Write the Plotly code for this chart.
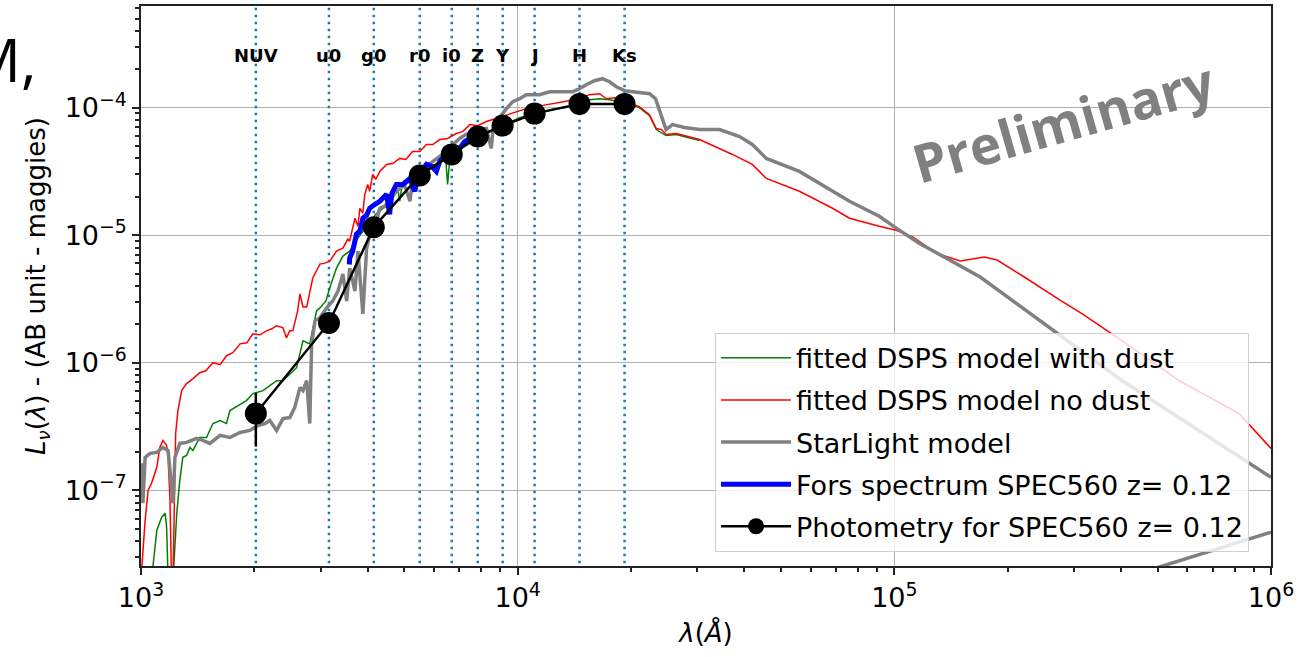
import numpy as np
import plotly.graph_objects as go

# ---------------- data ----------------
filters = ["NUV", "u0", "g0", "r0", "i0", "Z", "Y", "J", "H", "Ks"]
filter_wave = [2018, 3155, 4150, 5496, 6683, 7834, 9125, 11090, 14596, 19220]   # Angstrom (rest frame)
phot_flux = [4.0e-7, 2.05e-6, 1.155e-5, 2.94e-5, 4.3e-5, 5.93e-5, 7.23e-5, 8.98e-5, 1.07e-4, 1.07e-4]
phot_err = [1.8e-7, 1.0e-7, 4e-7, 6e-7, 8e-7, 1e-6, 1.2e-6, 1.5e-6, 2e-6, 2e-6]

# spectra as (log10 wavelength [A], log10 L_nu [maggies])
red_nodust = [(3.000,-7.7),(3.011,-7.234),(3.019,-7.000),(3.028,-6.945),(3.042,-6.820),(3.050,-6.664),
    (3.058,-6.609),(3.068,-6.648),(3.072,-6.742),(3.077,-7.078),(3.081,-7.7),(3.085,-7.7),(3.092,-6.555),
    (3.098,-6.375),(3.108,-6.219),(3.121,-6.164),(3.138,-6.125),(3.156,-6.078),(3.172,-6.063),(3.191,-6.000),
    (3.210,-6.016),(3.227,-5.945),(3.244,-5.922),(3.263,-5.852),(3.281,-5.844),(3.297,-5.773),(3.316,-5.781),
    (3.333,-5.750),(3.347,-5.734),(3.360,-5.711),(3.377,-5.727),(3.386,-5.805),(3.395,-5.750),(3.403,-5.750),
    (3.416,-5.594),(3.422,-5.461),(3.430,-5.563),(3.440,-5.563),(3.456,-5.336),(3.475,-5.227),(3.488,-5.219),
    (3.501,-5.203),(3.519,-5.125),(3.536,-5.102),(3.549,-5.031),(3.554,-5.047),(3.568,-4.867),(3.576,-4.930),
    (3.581,-4.789),(3.589,-4.828),(3.594,-4.680),(3.602,-4.602),(3.607,-4.656),(3.615,-4.523),(3.623,-4.563),
    (3.634,-4.500),(3.652,-4.445),(3.668,-4.438),(3.687,-4.398),(3.703,-4.406),(3.721,-4.344),(3.740,-4.344),
    (3.758,-4.289),(3.775,-4.289),(3.793,-4.250),(3.814,-4.242),(3.837,-4.203),(3.854,-4.188),(3.873,-4.133),
    (3.894,-4.141),(3.917,-4.109),(3.942,-4.086),(3.970,-4.055),(3.995,-4.031),(4.023,-4.008),(4.048,-3.992),
    (4.076,-3.977),(4.111,-3.961),(4.151,-3.938),(4.191,-3.898),(4.218,-3.891),(4.235,-3.930),(4.257,-3.922),
    (4.288,-3.953),(4.323,-3.992),(4.350,-4.055),(4.368,-4.164),(4.382,-4.172),(4.394,-4.211),(4.421,-4.203),
    (4.483,-4.250),(4.570,-4.367),(4.623,-4.445),(4.660,-4.555),(4.748,-4.656),(4.836,-4.789),(4.881,-4.867),
    (4.960,-4.930),(5.005,-4.961),(5.050,-5.016),(5.111,-5.141),(5.175,-5.203),(5.239,-5.172),(5.273,-5.195),
    (5.345,-5.328),(5.443,-5.516),(5.499,-5.617),(5.605,-5.828),(5.756,-6.141),(5.915,-6.398),(6.000,-6.672)]

green_dust = [(3.028,-7.7),(3.042,-7.313),(3.055,-7.211),(3.064,-7.180),(3.068,-7.289),(3.072,-7.7),(3.085,-7.7),
    (3.095,-7.180),(3.103,-6.922),(3.111,-6.742),(3.121,-6.727),(3.130,-6.664),(3.138,-6.688),(3.156,-6.586),
    (3.174,-6.586),(3.191,-6.477),(3.210,-6.453),(3.227,-6.477),(3.236,-6.375),(3.263,-6.328),(3.280,-6.297),
    (3.297,-6.242),(3.324,-6.219),(3.342,-6.180),(3.360,-6.141),(3.377,-6.141),(3.395,-6.086),(3.413,-6.039),
    (3.430,-5.828),(3.448,-5.852),(3.466,-5.594),(3.475,-5.570),(3.491,-5.516),(3.501,-5.414),(3.519,-5.258),
    (3.536,-5.164),(3.554,-5.125),(3.570,-5.047),(3.589,-4.969),(3.607,-4.906),(3.623,-4.836),(3.634,-4.813),
    (3.650,-4.773),(3.655,-4.703),(3.658,-4.828),(3.660,-4.695),(3.682,-4.641),(3.687,-4.734),(3.692,-4.625),
    (3.714,-4.578),(3.740,-4.516),(3.767,-4.469),(3.793,-4.422),(3.809,-4.398),(3.814,-4.602),(3.820,-4.391),
    (3.846,-4.328),(3.873,-4.281),(3.899,-4.227),(3.926,-4.188),(3.952,-4.148),(3.979,-4.109),(4.005,-4.078),
    (4.045,-4.047),(4.085,-4.016),(4.125,-4.000),(4.164,-3.969),(4.191,-3.938),(4.218,-3.930),(4.244,-3.938),
    (4.284,-3.961),(4.323,-4.000),(4.350,-4.063),(4.368,-4.172),(4.394,-4.219),(4.421,-4.211),(4.483,-4.258)]

gray_starlight = [(3.002,-6.789),(3.005,-7.102),(3.011,-6.742),(3.024,-6.711),(3.042,-6.703),(3.058,-6.664),
    (3.072,-6.688),(3.081,-7.000),(3.085,-7.102),(3.090,-6.742),(3.103,-6.633),(3.121,-6.625),(3.148,-6.594),
    (3.164,-6.609),(3.183,-6.633),(3.210,-6.570),(3.236,-6.586),(3.263,-6.547),(3.289,-6.531),(3.310,-6.492),
    (3.329,-6.477),(3.342,-6.453),(3.360,-6.531),(3.377,-6.438),(3.395,-6.430),(3.408,-6.352),(3.422,-6.195),
    (3.430,-6.219),(3.440,-6.141),(3.448,-6.477),(3.453,-5.852),(3.462,-5.672),(3.475,-5.648),(3.493,-5.570),
    (3.509,-5.516),(3.523,-5.438),(3.536,-5.305),(3.546,-5.516),(3.554,-5.258),(3.568,-5.438),(3.576,-5.125),
    (3.589,-5.617),(3.599,-5.102),(3.612,-4.945),(3.623,-4.914),(3.634,-4.789),(3.647,-4.773),(3.660,-4.734),
    (3.674,-4.672),(3.687,-4.633),(3.700,-4.609),(3.714,-4.734),(3.721,-4.570),(3.740,-4.500),(3.756,-4.461),
    (3.775,-4.422),(3.793,-4.383),(3.811,-4.344),(3.828,-4.289),(3.846,-4.242),(3.862,-4.211),(3.881,-4.188),
    (3.899,-4.172),(3.917,-4.164),(3.930,-4.320),(3.936,-4.125),(3.944,-4.109),(3.970,-4.008),(3.987,-3.953),
    (4.005,-3.930),(4.023,-3.898),(4.058,-3.898),(4.085,-3.875),(4.111,-3.875),(4.146,-3.875),(4.164,-3.852),
    (4.182,-3.820),(4.204,-3.789),(4.225,-3.773),(4.244,-3.797),(4.262,-3.836),(4.284,-3.867),(4.305,-3.875),
    (4.350,-3.891),(4.366,-3.930),(4.385,-4.086),(4.394,-4.172),(4.411,-4.133),(4.443,-4.156),(4.483,-4.172),
    (4.536,-4.172),(4.589,-4.227),(4.623,-4.289),(4.660,-4.398),(4.748,-4.500),(4.881,-4.734),(4.960,-4.852),
    (5.005,-4.945),(5.066,-5.063),(5.228,-5.328),(5.462,-5.828),(5.605,-6.141),(6.000,-6.898)]
gray_starlight_tail = [(5.594,-7.703),(6.000,-7.328)]

blue_fors = [(3.553,-5.230),(3.554,-5.180),(3.562,-5.125),(3.572,-4.992),(3.581,-4.969),(3.589,-4.867),
    (3.599,-4.844),(3.607,-4.789),(3.621,-4.758),(3.634,-4.734),(3.652,-4.680),(3.660,-4.836),(3.666,-4.672),
    (3.678,-4.602),(3.695,-4.602),(3.714,-4.555),(3.727,-4.656),(3.735,-4.539),(3.758,-4.445),(3.772,-4.461),
    (3.784,-4.500),(3.793,-4.422),(3.811,-4.367),(3.828,-4.359),(3.846,-4.320),(3.859,-4.266),(3.873,-4.242)]


def unlog(pairs):
    a = np.array(pairs)
    return 10 ** a[:, 0], 10 ** a[:, 1]


FONT = "DejaVu Sans"
fig = go.Figure()

# filter vertical dotted lines
vx, vy = [], []
for w in filter_wave:
    vx += [w, w, None]
    vy += [1e-9, 1e-2, None]
fig.add_trace(go.Scatter(x=vx, y=vy, mode="lines", showlegend=False, hoverinfo="skip",
                         line=dict(color="#1f77b4", width=2.5, dash="2.5px,4.5px")))

x, y = unlog(green_dust)
fig.add_trace(go.Scatter(x=x, y=y, mode="lines", name="fitted DSPS model with dust",
                         legendgroup="a", line=dict(color="green", width=1.5)))
x, y = unlog(red_nodust)
fig.add_trace(go.Scatter(x=x, y=y, mode="lines", name="fitted DSPS model no dust",
                         legendgroup="b", line=dict(color="red", width=1.5)))
x, y = unlog(gray_starlight)
fig.add_trace(go.Scatter(x=x, y=y, mode="lines", name="StarLight model",
                         legendgroup="c", line=dict(color="gray", width=3.5)))
x, y = unlog(gray_starlight_tail)
fig.add_trace(go.Scatter(x=x, y=y, mode="lines", showlegend=False, legendgroup="c",
                         line=dict(color="gray", width=3.5)))
x, y = unlog(blue_fors)
fig.add_trace(go.Scatter(x=x, y=y, mode="lines", name="Fors spectrum SPEC560 z= 0.12",
                         legendgroup="d", line=dict(color="blue", width=5)))
fig.add_trace(go.Scatter(x=filter_wave, y=phot_flux, mode="lines+markers",
                         name="Photometry for SPEC560 z= 0.12", legendgroup="e",
                         line=dict(color="black", width=2.5),
                         marker=dict(color="black", size=22),
                         error_y=dict(type="data", array=phot_err, color="black", thickness=2.5, width=0)))

# filter labels
for name, w in zip(filters, filter_wave):
    fig.add_annotation(x=np.log10(w), y=0.911, xref="x", yref="paper", text=f"<b>{name}</b>",
                       xanchor="center", yanchor="middle",
                       showarrow=False, font=dict(family=FONT, size=18, color="black"))

fig.add_annotation(x=0.816, y=0.793, xref="paper", yref="paper", text="<b>Preliminary</b>",
                   xanchor="center", yanchor="middle",
                   showarrow=False, textangle=-16,
                   font=dict(family="Open Sans", size=53, color="#808080"))
fig.add_annotation(x=-0.0905, y=0.906, xref="paper", yref="paper", text="M,",
                   xanchor="right", yanchor="middle",
                   showarrow=False, font=dict(family="Open Sans", size=60, color="black"))

minor_x = [m * 10 ** k for k in range(3, 6) for m in range(2, 10)]
minor_y = [m * 10 ** k for k in range(-8, -3) for m in range(2, 10)]

fig.update_xaxes(type="log", range=[3, 6],
                 tickvals=[1e3, 1e4, 1e5, 1e6],
                 ticktext=["10<sup>3</sup>", "10<sup>4</sup>", "10<sup>5</sup>", "10<sup>6</sup>"],
                 tickfont=dict(family=FONT, size=27, color="black"),
                 ticks="outside", ticklen=7, tickwidth=1.5, tickcolor="#222",
                 minor=dict(tickvals=minor_x, ticks="outside", ticklen=4, tickcolor="#222", showgrid=False),
                 showgrid=True, gridcolor="#b0b0b0", gridwidth=1,
                 showline=True, linecolor="#222", linewidth=1.5, mirror=True, zeroline=False,
                 title=dict(text="<i>λ</i>(<i>Å</i>)", font=dict(family=FONT, size=26, color="black"),
                            standoff=12))
fig.update_yaxes(type="log", range=[-7.594, -3.203],
                 tickvals=[1e-7, 1e-6, 1e-5, 1e-4],
                 ticktext=["10<sup>−7</sup>", "10<sup>−6</sup>", "10<sup>−5</sup>", "10<sup>−4</sup>"],
                 tickfont=dict(family=FONT, size=27, color="black"),
                 ticks="outside", ticklen=7, tickwidth=1.5, tickcolor="#222",
                 minor=dict(tickvals=minor_y, ticks="outside", ticklen=4, tickcolor="#222", showgrid=False),
                 showgrid=True, gridcolor="#b0b0b0", gridwidth=1,
                 showline=True, linecolor="#222", linewidth=1.5, mirror=True, zeroline=False,
                 title=dict(text="<i>L<sub>ν</sub></i>(<i>λ</i>) - (AB unit - maggies)",
                            font=dict(family=FONT, size=26, color="black"), standoff=12))

fig.update_layout(
    width=1299, height=657,
    margin=dict(l=141, r=28, t=4, b=91),
    paper_bgcolor="white", plot_bgcolor="white",
    showlegend=True,
    legend=dict(x=0.508, y=0.4164, xanchor="left", yanchor="top",
                bgcolor="rgba(255,255,255,0.8)", bordercolor="#d0d0d0", borderwidth=1,
                font=dict(family=FONT, size=27, color="black"),
                traceorder="grouped", tracegroupgap=4, itemwidth=70),
)

fig.write_html("out.html")
